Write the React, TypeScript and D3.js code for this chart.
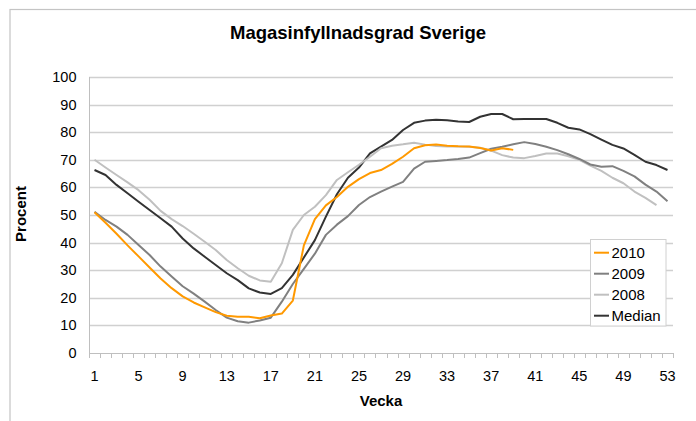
import React from "react";
import * as d3 from "d3";

const weeks: number[] = Array.from({ length: 53 }, (_, i) => i + 1);
const tickWeeks = [1, 5, 9, 13, 17, 21, 25, 29, 33, 37, 41, 45, 49, 53];
const yTicks = [0, 10, 20, 30, 40, 50, 60, 70, 80, 90, 100];

const s2010 = [51, 47.2, 43.2, 39, 35, 31, 27, 23.5, 20.5, 18.3, 16.5, 14.8, 13.5, 13.1, 13.1, 12.6, 13.6, 14.3, 19, 39, 48.5, 53.5, 56.5, 60.2, 63, 65.2, 66.3, 68.5, 71.1, 74.2, 75.3, 75.5, 75.1, 74.9, 74.8, 74.3, 73.4, 74.2, 73.6];
const s2009 = [51.2, 48.2, 45.8, 42.8, 39.1, 35.5, 31.3, 27.7, 24.2, 21.5, 18.6, 15.6, 12.8, 11.5, 11, 11.8, 12.8, 18.6, 25, 30.5, 36, 42.8, 46.5, 49.6, 53.6, 56.5, 58.5, 60.3, 62, 66.8, 69.3, 69.6, 69.9, 70.3, 70.8, 72.4, 74, 74.7, 75.6, 76.4, 75.7, 74.7, 73.5, 72, 70.3, 68.3, 67.5, 67.7, 66, 64, 61, 58.5, 55];
const s2008 = [70, 67.2, 64.5, 61.8, 59, 55.5, 51.5, 48.5, 46, 43.2, 40.3, 37.3, 33.7, 30.7, 28, 26.3, 25.8, 32.5, 44.6, 50, 53, 57.2, 62.7, 65.5, 68.2, 71.1, 74.2, 75.1, 75.6, 76.2, 75.5, 75, 74.8, 74.8, 74.7, 74.4, 73.3, 71.7, 70.8, 70.6, 71.4, 72.3, 72.3, 71.3, 70, 67.9, 66, 63.5, 61.5, 58.5, 56.2, 53.6];
const sMedian = [66.3, 64.5, 60.9, 57.9, 54.8, 51.8, 48.8, 45.8, 41.5, 37.9, 34.9, 31.9, 28.9, 26.4, 23.4, 21.9, 21.4, 23.5, 28.3, 34.6, 40.9, 49.4, 57.5, 63.5, 67.2, 72.3, 74.8, 77.2, 80.8, 83.4, 84.2, 84.5, 84.3, 83.9, 83.7, 85.6, 86.6, 86.6, 84.7, 84.8, 84.8, 84.8, 83.4, 81.6, 81, 79.3, 77.3, 75.4, 74.1, 71.8, 69.3, 68.1, 66.3];

const seriesNames = ["2010", "2009", "2008", "Median"];
const seriesValues = [s2010, s2009, s2008, sMedian];
const seriesColors = ["#FF9900", "#808080", "#C0C0C0", "#333333"];

const W = 696;
const H = 421;
const left = 89;
const right = 673;
const top = 77;
const bottom = 353;
const font = "'Liberation Sans', Arial, sans-serif";

export default function App() {
  const band = d3.scaleBand<number>().domain(weeks).range([left, right]).paddingInner(0).paddingOuter(0);
  const x = (w: number) => (band(w) as number) + band.bandwidth() / 2;
  const y = d3.scaleLinear().domain([0, 100]).range([bottom, top]);
  const line = d3
    .line<number>()
    .x((_, i) => x(weeks[i]))
    .y((d) => y(d));

  const boundaries = d3.range(weeks.length + 1).map((i) => left + i * band.bandwidth());

  const legX = 590;
  const legY = 239;
  const legRowH = 21;

  return (
    <svg width={W} height={H} style={{ position: "absolute", left: 0, top: 0, background: "#fff" }} fontFamily={font}>
      <rect x={10} y={9.5} width={700} height={430} fill="#fff" stroke="#C4C4C4" strokeWidth={1.2} />
      <text x={358} y={39} textAnchor="middle" fontSize={18.5} fontWeight="bold" fill="#000">
        Magasinfyllnadsgrad Sverige
      </text>
      {yTicks.map((t) => (
        <g key={t}>
          {t > 0 && <line x1={left} x2={right} y1={Math.round(y(t)) + 0.5} y2={Math.round(y(t)) + 0.5} stroke="#D0D0D0" strokeWidth={1.3} />}
          <text x={76.5} y={y(t) + 5} textAnchor="end" fontSize={14.5} fill="#000">
            {t}
          </text>
        </g>
      ))}
      <line x1={left + 0.5} x2={left + 0.5} y1={top} y2={bottom + 0.5} stroke="#BFBFBF" strokeWidth={1} />
      <line x1={left} x2={right + 0.5} y1={bottom + 0.5} y2={bottom + 0.5} stroke="#BFBFBF" strokeWidth={1} />
      {boundaries.map((bx, i) => (
        <line key={i} x1={Math.round(bx) + 0.5} x2={Math.round(bx) + 0.5} y1={bottom} y2={bottom + 5} stroke="#BFBFBF" strokeWidth={1} />
      ))}
      {tickWeeks.map((w) => (
        <text key={w} x={x(w)} y={380.5} textAnchor="middle" fontSize={14.5} fill="#000">
          {w}
        </text>
      ))}
      <text x={381} y={406} textAnchor="middle" fontSize={15} fontWeight="bold" fill="#000">
        Vecka
      </text>
      <text transform={`translate(25.5,214) rotate(-90)`} textAnchor="middle" fontSize={15} fontWeight="bold" fill="#000">
        Procent
      </text>
      {seriesValues
        .map((vals, i) => ({ vals, i }))
        .reverse()
        .map(({ vals, i }) => (
          <path key={i} d={line(vals) || ""} fill="none" stroke={seriesColors[i]} strokeWidth={2} strokeLinejoin="round" />
        ))}
      <rect x={legX + 0.5} y={legY + 0.5} width={75.5} height={86.5} fill="#fff" stroke="#D0D0D0" strokeWidth={1} />
      {seriesNames.map((n, i) => (
        <g key={n}>
          <line x1={legX + 4} x2={legX + 19} y1={legY + 13.7 + i * legRowH} y2={legY + 13.7 + i * legRowH} stroke={seriesColors[i]} strokeWidth={2} />
          <text x={legX + 21.5} y={legY + 19 + i * legRowH} fontSize={15} fill="#000">
            {n}
          </text>
        </g>
      ))}
    </svg>
  );
}
